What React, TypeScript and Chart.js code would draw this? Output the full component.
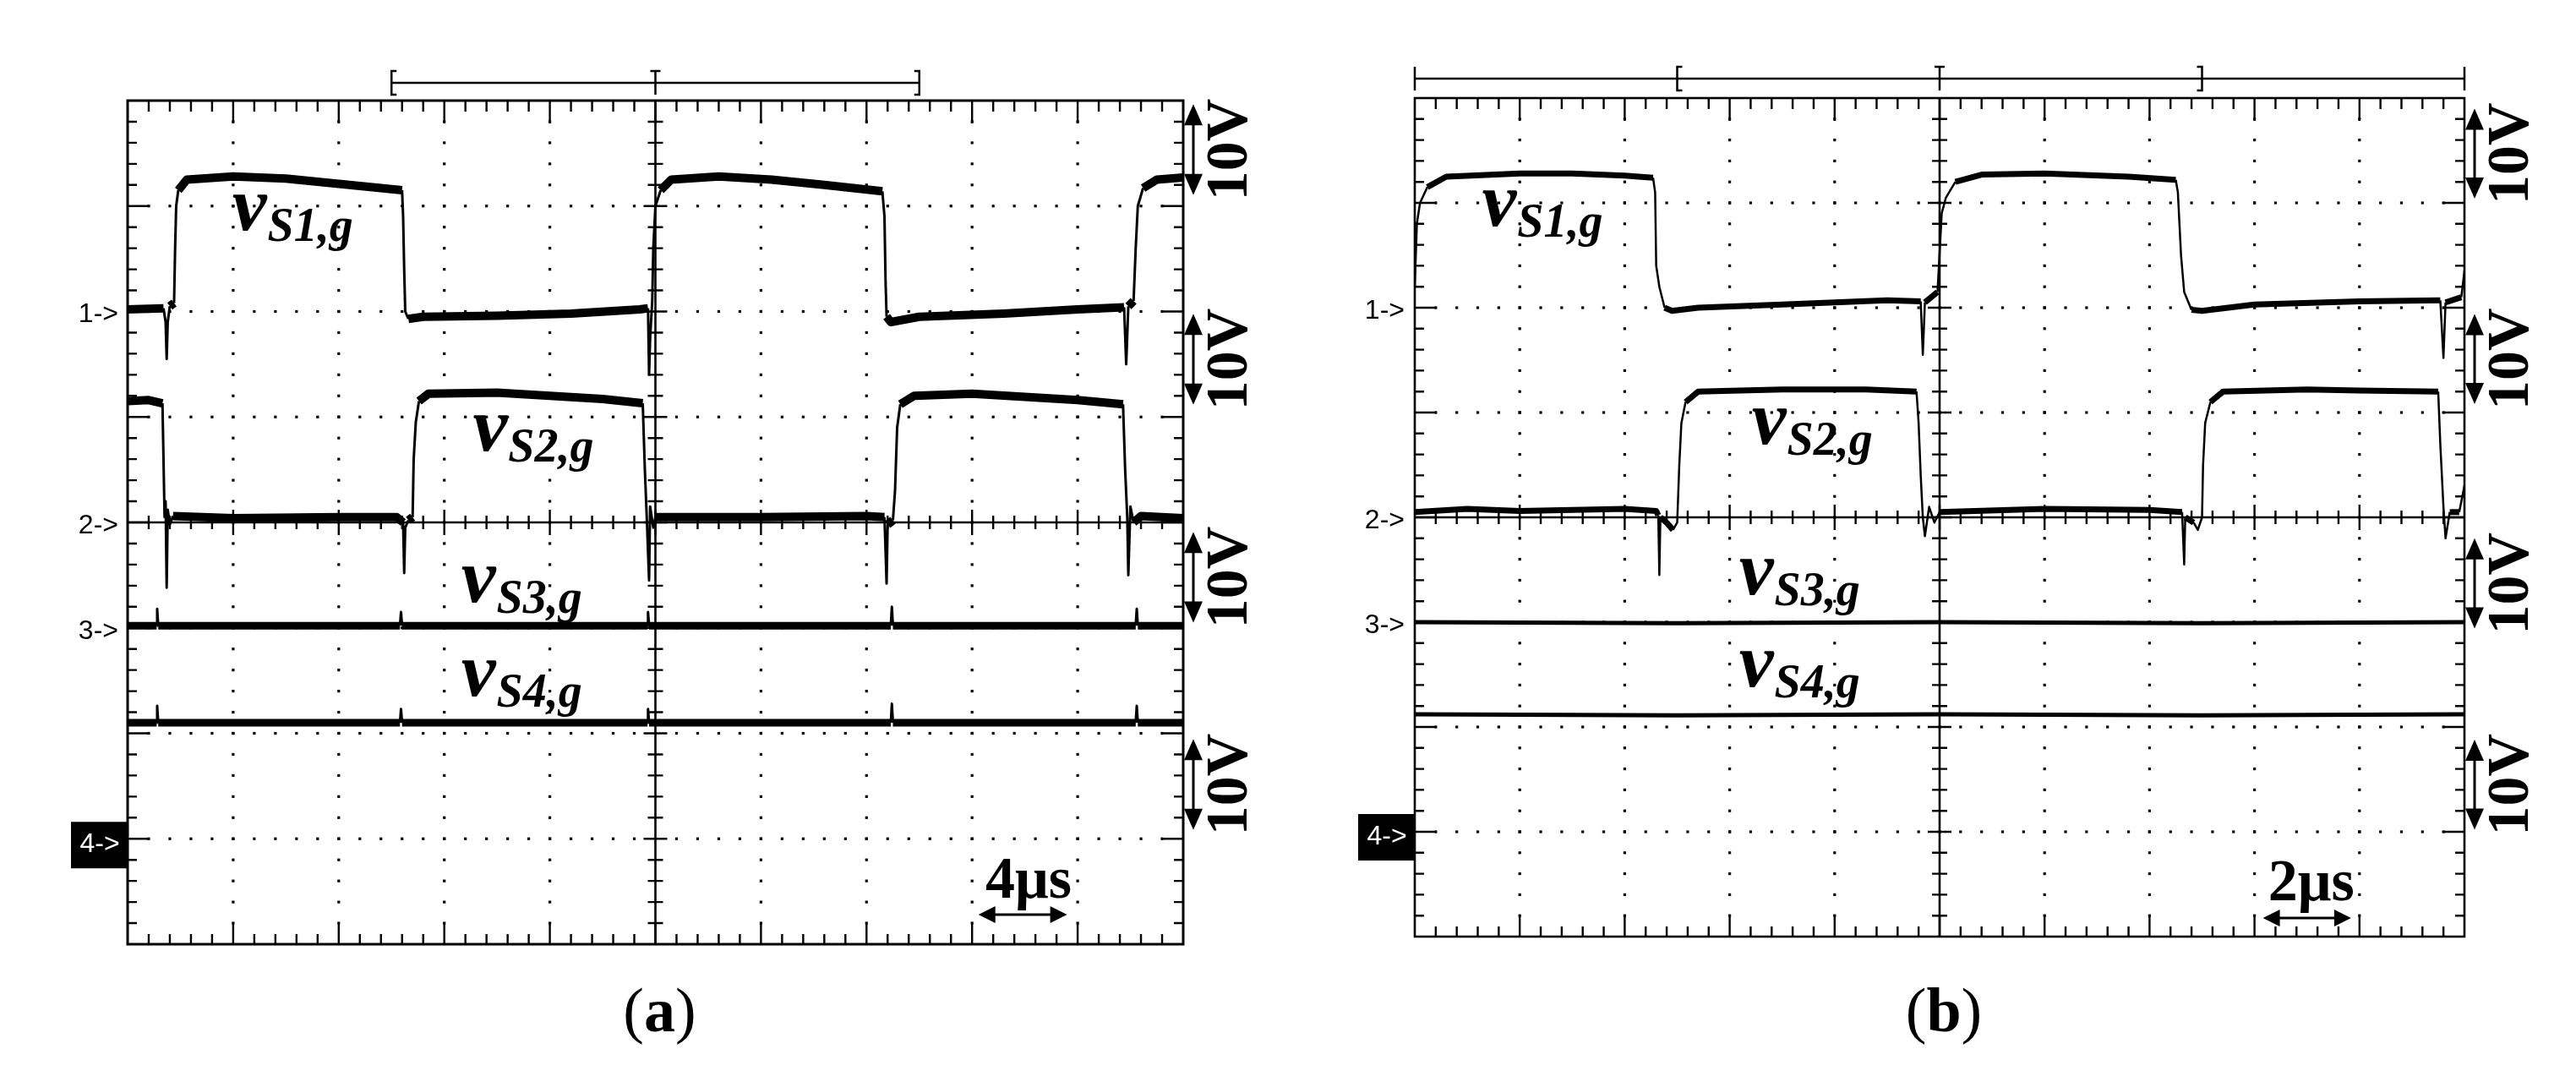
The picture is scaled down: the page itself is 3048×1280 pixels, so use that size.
import React, { useEffect, useRef } from 'react';
import { Chart, registerables } from 'chart.js';

Chart.register(...registerables);

type Pt = [number, number];

// ---------------- values ----------------
// x: time in µs, y: screen divisions from the centre line (10 V/div)
const PANEL_CAPTIONS = ['a', 'b'];
const TIME_RANGES: Pt[] = [[0, 40], [0, 20]];
const TIME_LABELS = ['4μs', '2μs'];
const VOLT_LABEL = '10V';
const TRACE_SUBS = ['S1,g', 'S2,g', 'S3,g', 'S4,g'];
const CHANNEL_TAGS = ['1->', '2->', '3->', '4->'];
const CHANNEL_LEVELS = [2, 0, -1, -3];

// panel (a), 4 µs/div
const A_S1: Pt[] = [
  [0, 2.02], [1.36, 2.03], [1.44, 1.9], [1.48, 1.55], [1.52, 1.9], [1.6, 2.05], [1.76, 2.08],
  [1.8, 2.6], [1.84, 3.0], [1.92, 3.15], [2.24, 3.25], [4.0, 3.28], [6.0, 3.26], [8.0, 3.21],
  [9.2, 3.18], [10.4, 3.15], [10.44, 2.9], [10.48, 2.4], [10.52, 2.0], [10.64, 1.93], [11.2, 1.95],
  [14.0, 1.96], [16.8, 1.98], [19.4, 2.02], [19.72, 2.03], [19.76, 1.4], [19.8, 1.75], [19.88, 2.1],
  [19.92, 2.6], [20.0, 3.0], [20.2, 3.15], [20.6, 3.25], [22.4, 3.28], [24.4, 3.25], [26.4, 3.2],
  [28.6, 3.14], [28.68, 2.9], [28.72, 2.3], [28.76, 1.95], [28.92, 1.9], [30.0, 1.95], [33.2, 1.98],
  [36.0, 2.02], [37.76, 2.04], [37.84, 1.5], [37.92, 2.05], [38.12, 2.1], [38.2, 2.6], [38.28, 3.0],
  [38.48, 3.17], [39.0, 3.25], [40.0, 3.27],
];
const A_S2: Pt[] = [
  [0, 1.15], [0.8, 1.16], [1.32, 1.13], [1.36, 0.6], [1.4, 0.05], [1.44, 0.2], [1.48, -0.62],
  [1.52, 0.12], [1.6, -0.02], [1.72, 0.06], [4, 0.04], [8, 0.05], [10.2, 0.05], [10.44, 0.0],
  [10.48, -0.48], [10.52, -0.05], [10.64, 0.02], [10.8, 0.05], [10.84, 0.6], [10.92, 0.95],
  [11.04, 1.15], [11.4, 1.22], [14, 1.23], [16, 1.2], [18, 1.17], [19.52, 1.13], [19.6, 0.5],
  [19.68, 0.0], [19.76, -0.55], [19.8, 0.15], [19.92, -0.05], [20, 0.05], [24, 0.05], [28, 0.06],
  [28.68, 0.05], [28.76, -0.58], [28.8, -0.02], [29, 0.02], [29.08, 0.3], [29.16, 0.9], [29.28, 1.12],
  [29.8, 1.2], [32, 1.22], [36, 1.16], [37.72, 1.12], [37.8, 0.5], [37.88, 0.05], [37.92, -0.5],
  [38, 0.15], [38.12, 0.0], [38.4, 0.06], [40, 0.04],
];
const A_S3: Pt[] = [
  [0, -0.98], [1.1, -0.98], [1.12, -0.82], [1.16, -0.98], [10.32, -0.98], [10.36, -0.85],
  [10.4, -0.98], [19.7, -0.98], [19.72, -0.85], [19.76, -0.98], [28.92, -0.98], [28.96, -0.8],
  [29.0, -0.98], [38.2, -0.98], [38.24, -0.82], [38.28, -0.98], [40, -0.98],
];
const A_S4: Pt[] = [
  [0, -1.9], [1.1, -1.9], [1.12, -1.74], [1.16, -1.9], [10.32, -1.9], [10.36, -1.77],
  [10.4, -1.9], [19.7, -1.9], [19.72, -1.77], [19.76, -1.9], [28.92, -1.9], [28.96, -1.72],
  [29.0, -1.9], [38.2, -1.9], [38.24, -1.74], [38.28, -1.9], [40, -1.9],
];

// panel (b), 2 µs/div
const B_S1: Pt[] = [
  [0, 2.2], [0.04, 2.8], [0.1, 3.0], [0.24, 3.15], [0.6, 3.25], [2, 3.28], [3, 3.28], [4, 3.26],
  [4.54, 3.24], [4.58, 3.1], [4.6, 2.4], [4.66, 2.2], [4.76, 2.0], [4.9, 1.97], [5.4, 2.0], [7, 2.03],
  [9, 2.07], [9.64, 2.06], [9.68, 1.55], [9.72, 2.05], [9.96, 2.15], [10.04, 2.9], [10.12, 3.05],
  [10.3, 3.2], [10.8, 3.27], [12, 3.28], [13.6, 3.25], [14.5, 3.22], [14.54, 3.1], [14.6, 2.5],
  [14.66, 2.15], [14.8, 1.98], [15, 1.97], [16, 2.03], [18, 2.06], [19.54, 2.07], [19.6, 1.52],
  [19.64, 2.05], [19.94, 2.1], [20, 2.35],
];
const B_S2: Pt[] = [
  [0, 0.05], [1, 0.08], [2, 0.06], [4, 0.08], [4.6, 0.06], [4.64, 0.02], [4.66, -0.55], [4.68, 0.0],
  [4.8, -0.05], [4.92, -0.12], [5.0, -0.05], [5.04, 0.5], [5.08, 0.9], [5.16, 1.1], [5.4, 1.2],
  [7, 1.22], [8.6, 1.22], [9.56, 1.2], [9.6, 0.9], [9.64, 0.4], [9.68, 0.0], [9.72, -0.18], [9.8, 0.1],
  [9.9, -0.05], [10, 0.05], [12, 0.08], [14, 0.07], [14.62, 0.05], [14.66, -0.45], [14.68, 0.0],
  [14.84, -0.05], [14.92, -0.12], [15, 0.0], [15.02, 0.5], [15.06, 0.9], [15.16, 1.1], [15.4, 1.2],
  [17, 1.22], [18, 1.21], [19.5, 1.2], [19.54, 0.7], [19.6, 0.1], [19.64, -0.2], [19.72, 0.05],
  [19.9, 0.05], [20, 0.3],
];
const B_S3: Pt[] = [[0, -1.0], [5, -1.01], [10, -1.0], [15, -1.01], [20, -1.0]];
const B_S4: Pt[] = [[0, -1.88], [5, -1.89], [10, -1.88], [15, -1.89], [20, -1.88]];

const TRACES: Pt[][][] = [[A_S1, A_S2, A_S3, A_S4], [B_S1, B_S2, B_S3, B_S4]];

// ---------------- layout / style (not data) ----------------
const LAYOUT = [
  {
    left: 0, padding: { left: 151, right: 124, top: 119, bottom: 163 },
    band: [10, 10, 9, 9], edge: 3, borderW: 3,
    labelPos: [[0.99, 2.77], [3.27, 0.68], [3.16, -0.75], [3.16, -1.64]],
    voltPos: [3.535, 1.547, -0.52, -2.485],
    bracketDy: 21, bracketFull: false,
    timeDiv: 8.535, timeUp: 55, arrowFrom: 8.06, arrowTo: 8.9, arrowUp: 35,
    tagGap: 11, boxDy: -20,
  },
  {
    left: 1524, padding: { left: 150, right: 132, top: 116, bottom: 172 },
    band: [7, 7, 5, 5], edge: 2.5, borderW: 2.6,
    labelPos: [[0.64, 2.78], [3.21, 0.7], [3.09, -0.73], [3.09, -1.61]],
    voltPos: [3.47, 1.51, -0.63, -2.55],
    bracketDy: 23, bracketFull: true,
    timeDiv: 8.54, timeUp: 43, arrowFrom: 8.08, arrowTo: 8.92, arrowUp: 22,
    tagGap: 12, boxDy: -21,
  },
];

const SERIF = '"Liberation Serif", "Times New Roman", serif';
const SANS = '"Liberation Sans", Arial, sans-serif';

function arrowHead(ctx: any, x: number, y: number, dx: number, dy: number, len: number, hw: number) {
  ctx.beginPath();
  ctx.moveTo(x, y);
  ctx.lineTo(x - dx * len - dy * hw, y - dy * len + dx * hw);
  ctx.lineTo(x - dx * len + dy * hw, y - dy * len - dx * hw);
  ctx.closePath();
  ctx.fill();
}

function makePlugin(pi: number) {
  const L = LAYOUT[pi];
  const helpers = (chart: any) => {
    const xs = chart.scales.x, ys = chart.scales.y;
    const X = (d: number) => xs.getPixelForValue(xs.min + (d * (xs.max - xs.min)) / 10);
    const Y = (d: number) => ys.getPixelForValue(d);
    return { X, Y };
  };
  return {
    id: 'scope' + pi,
    beforeDatasetsDraw(chart: any) {
      const { ctx, chartArea: a } = chart;
      const { X, Y } = helpers(chart);
      ctx.save();
      ctx.fillStyle = '#000';
      ctx.strokeStyle = '#000';
      const dot = 3.2;
      // dotted graticule
      for (let i = 1; i < 10; i++) {
        if (i === 5) continue;
        for (let k = 1; k < 40; k++) ctx.fillRect(X(i) - dot / 2, Y(-4 + k * 0.2) - dot / 2, dot, dot);
      }
      for (const j of [-3, -2, -1, 1, 2, 3]) {
        for (let k = 1; k < 50; k++) ctx.fillRect(X(k * 0.2) - dot / 2, Y(j) - dot / 2, dot, dot);
      }
      // ticks
      ctx.lineWidth = 2.4;
      ctx.beginPath();
      for (let k = 1; k < 50; k++) {
        const x = X(k * 0.2);
        const major = k % 5 === 0;
        ctx.moveTo(x, a.top); ctx.lineTo(x, a.top + (major ? 27 : 13));
        ctx.moveTo(x, a.bottom); ctx.lineTo(x, a.bottom - (major ? 24 : 12));
        const c = major ? 15 : 8;
        ctx.moveTo(x, Y(0) - c); ctx.lineTo(x, Y(0) + c);
      }
      for (let k = 1; k < 40; k++) {
        const y = Y(-4 + k * 0.2);
        const major = k % 5 === 0;
        ctx.moveTo(a.left, y); ctx.lineTo(a.left + (major ? 25 : 11), y);
        ctx.moveTo(a.right, y); ctx.lineTo(a.right - (major ? 25 : 11), y);
        const c = major ? 14 : 9;
        ctx.moveTo(X(5) - c, y); ctx.lineTo(X(5) + c, y);
      }
      ctx.stroke();
      // centre lines
      ctx.lineWidth = 2.6;
      ctx.beginPath();
      ctx.moveTo(X(5), a.top); ctx.lineTo(X(5), a.bottom);
      ctx.moveTo(a.left, Y(0)); ctx.lineTo(a.right, Y(0));
      ctx.stroke();
      // border
      ctx.lineWidth = L.borderW;
      ctx.strokeRect(a.left, a.top, a.right - a.left, a.bottom - a.top);
      ctx.restore();
    },
    afterDatasetsDraw(chart: any) {
      const { ctx, chartArea: a } = chart;
      const { X, Y } = helpers(chart);
      ctx.save();
      ctx.fillStyle = '#000';
      ctx.strokeStyle = '#000';

      // top bracket
      const by = a.top - L.bracketDy;
      ctx.lineWidth = 2.5;
      ctx.beginPath();
      const x0 = L.bracketFull ? X(0) : X(2.5);
      const x1 = L.bracketFull ? X(10) : X(7.5);
      ctx.moveTo(x0, by); ctx.lineTo(x1, by);
      // [ and ]
      const h = 14;
      ctx.moveTo(X(2.5) + 6, by - h); ctx.lineTo(X(2.5), by - h); ctx.lineTo(X(2.5), by + h); ctx.lineTo(X(2.5) + 6, by + h);
      ctx.moveTo(X(7.5) - 6, by - h); ctx.lineTo(X(7.5), by - h); ctx.lineTo(X(7.5), by + h); ctx.lineTo(X(7.5) - 6, by + h);
      // trigger marker
      ctx.moveTo(X(5) - 6, by - h); ctx.lineTo(X(5) + 6, by - h);
      ctx.moveTo(X(5), by - h); ctx.lineTo(X(5), by + h);
      if (L.bracketFull) {
        ctx.moveTo(X(0), by - h); ctx.lineTo(X(0), by + h);
        ctx.moveTo(X(10), by - h); ctx.lineTo(X(10), by + h);
      }
      ctx.stroke();

      // channel tags
      ctx.font = `32px ${SANS}`;
      ctx.textAlign = 'right';
      ctx.textBaseline = 'middle';
      for (let i = 0; i < 3; i++) ctx.fillText(CHANNEL_TAGS[i], a.left - L.tagGap, Y(CHANNEL_LEVELS[i]) + 4);
      const yb = Y(CHANNEL_LEVELS[3]);
      ctx.fillRect(a.left - 67, yb + L.boxDy, 67, 55);
      ctx.fillStyle = '#fff';
      ctx.textAlign = 'center';
      ctx.fillText(CHANNEL_TAGS[3], a.left - 33, yb + L.boxDy + 27);
      ctx.fillStyle = '#000';

      // trace names
      ctx.textAlign = 'left';
      ctx.textBaseline = 'alphabetic';
      for (let i = 0; i < 4; i++) {
        const [dx, dy] = L.labelPos[i];
        const px = X(dx), py = Y(dy);
        ctx.font = `italic bold 92px ${SERIF}`;
        ctx.fillText('v', px, py);
        const w = ctx.measureText('v').width;
        ctx.font = `italic bold 56px ${SERIF}`;
        ctx.fillText(TRACE_SUBS[i], px + w + 1, py + 13);
      }

      // 10V scale markers
      for (let i = 0; i < 4; i++) {
        const c = L.voltPos[i];
        const yt = Y(c + 0.43), yB = Y(c - 0.43);
        const ax = a.right + 12;
        ctx.lineWidth = 3;
        ctx.beginPath(); ctx.moveTo(ax, yt + 10); ctx.lineTo(ax, yB - 10); ctx.stroke();
        arrowHead(ctx, ax, yt, 0, -1, 25, 11);
        arrowHead(ctx, ax, yB, 0, 1, 25, 11);
        ctx.save();
        ctx.translate(a.right + 75, (yt + yB) / 2);
        ctx.rotate(-Math.PI / 2);
        ctx.font = `bold 70px ${SERIF}`;
        ctx.textAlign = 'center';
        ctx.textBaseline = 'alphabetic';
        ctx.fillText(VOLT_LABEL, 0, 0);
        ctx.restore();
      }

      // time-per-division marker
      ctx.font = `bold 70px ${SERIF}`;
      ctx.textAlign = 'center';
      ctx.textBaseline = 'alphabetic';
      ctx.fillText(TIME_LABELS[pi], X(L.timeDiv), a.bottom - L.timeUp);
      const ay = a.bottom - L.arrowUp;
      const xa = X(L.arrowFrom), xb = X(L.arrowTo);
      ctx.lineWidth = 3;
      ctx.beginPath(); ctx.moveTo(xa + 10, ay); ctx.lineTo(xb - 10, ay); ctx.stroke();
      arrowHead(ctx, xa, ay, -1, 0, 20, 10);
      arrowHead(ctx, xb, ay, 1, 0, 20, 10);

      // caption
      const cy = 1220;
      const cx = X(5) + 5;
      ctx.font = `74px ${SERIF}`;
      const wp = ctx.measureText('(').width;
      const wq = ctx.measureText(')').width;
      ctx.font = `bold 74px ${SERIF}`;
      const wa = ctx.measureText(PANEL_CAPTIONS[pi]).width;
      const start = cx - (wp + wa + wq) / 2;
      ctx.textAlign = 'left';
      ctx.font = `74px ${SERIF}`;
      ctx.fillText('(', start, cy);
      ctx.fillText(')', start + wp + wa, cy);
      ctx.font = `bold 74px ${SERIF}`;
      ctx.fillText(PANEL_CAPTIONS[pi], start + wp, cy);
      ctx.restore();
    },
  };
}

function makeConfig(pi: number): any {
  const L = LAYOUT[pi];
  const [tmin, tmax] = TIME_RANGES[pi];
  const datasets = TRACES[pi].map((tr, i) => ({
    label: 'v' + TRACE_SUBS[i],
    data: tr.map(([x, y]) => ({ x, y })),
    borderColor: '#000',
    borderWidth: L.band[i],
    borderJoinStyle: 'round',
    borderCapStyle: 'butt',
    pointRadius: 0,
    pointHoverRadius: 0,
    tension: 0,
    fill: false,
    segment: {
      borderWidth: (c: any) => {
        const dx = Math.abs(c.p1.x - c.p0.x);
        const dy = Math.abs(c.p1.y - c.p0.y);
        return dy > 1.2 * dx + 2 ? L.edge : L.band[i];
      },
    },
  }));
  return {
    type: 'line',
    data: { datasets },
    options: {
      animation: false,
      responsive: false,
      devicePixelRatio: 1,
      events: [],
      layout: { padding: L.padding },
      plugins: { legend: { display: false }, tooltip: { enabled: false } },
      scales: {
        x: { type: 'linear', min: tmin, max: tmax, display: false },
        y: { type: 'linear', min: -4, max: 4, display: false },
      },
    },
    plugins: [makePlugin(pi)],
  };
}

function Panel({ index }: { index: number }) {
  const ref = useRef<HTMLCanvasElement | null>(null);
  useEffect(() => {
    if (!ref.current) return;
    const chart = new Chart(ref.current, makeConfig(index));
    return () => chart.destroy();
  }, [index]);
  return (
    <canvas
      ref={ref}
      width={1524}
      height={1280}
      style={{ position: 'absolute', left: LAYOUT[index].left, top: 0, width: 1524, height: 1280 }}
    />
  );
}

export default function App() {
  return (
    <div style={{ position: 'fixed', left: 0, top: 0, width: 3048, height: 1280, background: '#fff' }}>
      <Panel index={0} />
      <Panel index={1} />
    </div>
  );
}
